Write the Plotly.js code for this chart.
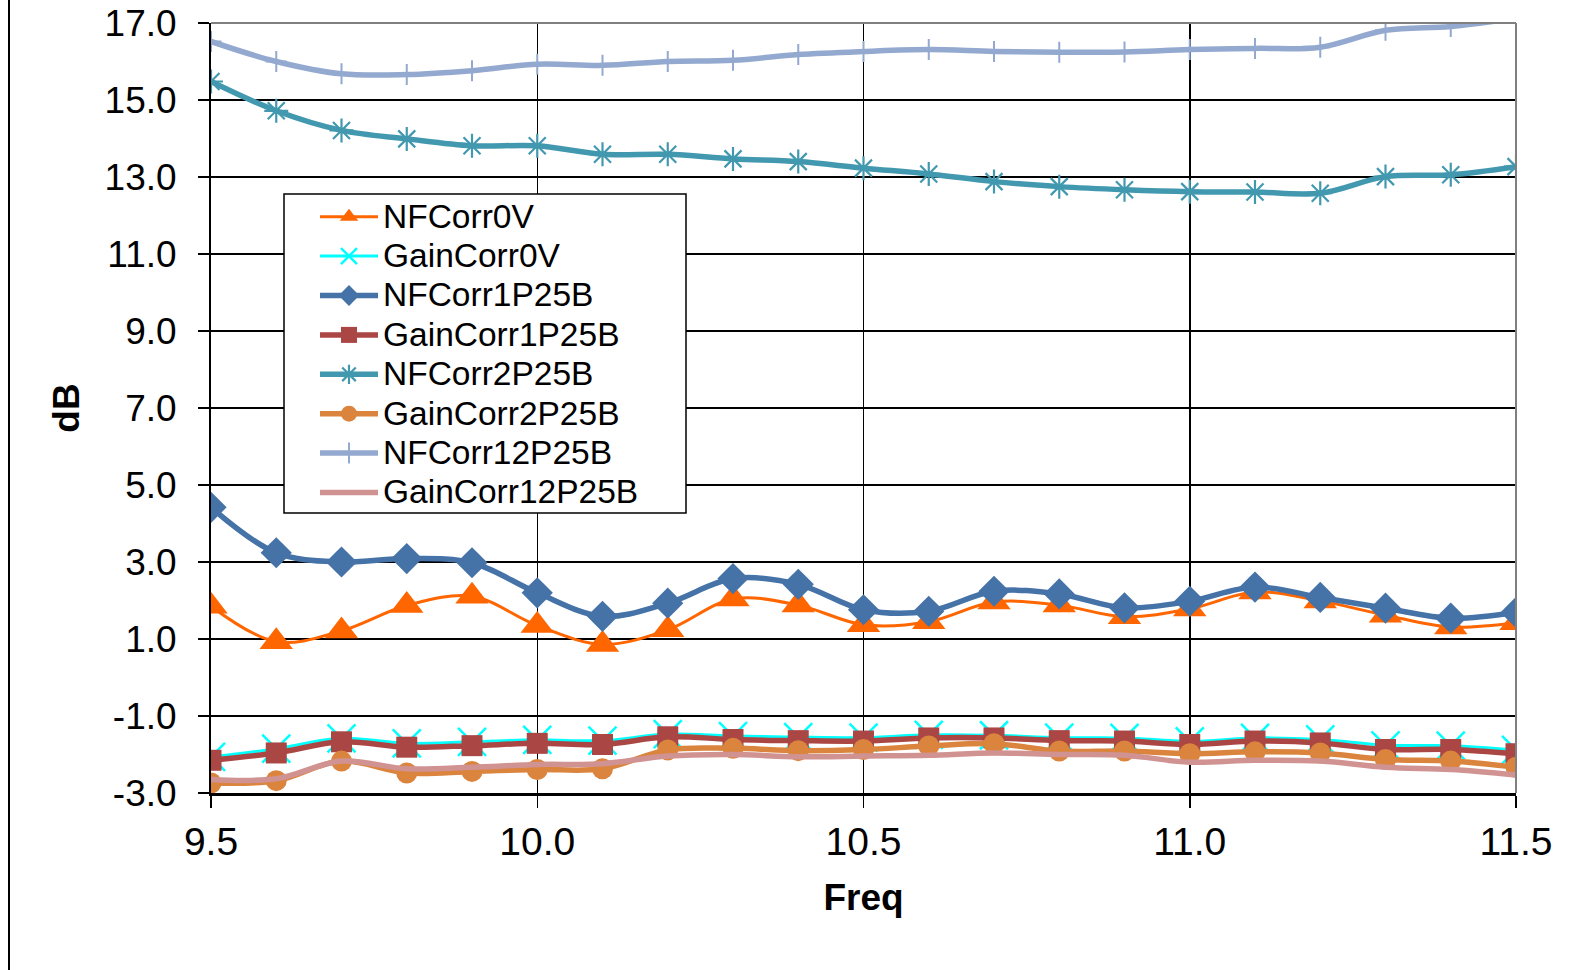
<!DOCTYPE html>
<html>
<head>
<meta charset="utf-8">
<script src="https://cdn.plot.ly/plotly-3.0.1.min.js"></script>
<style>
  html, body { margin: 0; padding: 0; background: #ffffff; }
  #chart { width: 1588px; height: 970px; }
</style>
</head>
<body>
<div id="chart"></div>
<script>
// ---- data ----
const freq = [9.5, 9.6, 9.7, 9.8, 9.9, 10.0, 10.1, 10.2, 10.3, 10.4, 10.5,
              10.6, 10.7, 10.8, 10.9, 11.0, 11.1, 11.2, 11.3, 11.4, 11.5];

const NFCorr0V      = [1.85, 0.93, 1.21, 1.87, 2.11, 1.35, 0.86, 1.24, 2.04, 1.88, 1.37,
                       1.45, 1.96, 1.88, 1.58, 1.78, 2.22, 1.99, 1.62, 1.31, 1.42];
const GainCorr0V    = [-2.06, -1.85, -1.58, -1.71, -1.67, -1.62, -1.64, -1.47, -1.52, -1.55, -1.56,
                       -1.49, -1.50, -1.56, -1.57, -1.66, -1.57, -1.61, -1.76, -1.77, -1.88];
const NFCorr1P25B   = [4.42, 3.24, 3.00, 3.09, 2.98, 2.20, 1.59, 1.93, 2.57, 2.42, 1.76,
                       1.72, 2.24, 2.17, 1.81, 1.98, 2.35, 2.08, 1.80, 1.54, 1.69];
const GainCorr1P25B = [-2.15, -1.96, -1.67, -1.81, -1.77, -1.71, -1.74, -1.54, -1.61, -1.64, -1.65,
                       -1.57, -1.57, -1.64, -1.65, -1.74, -1.65, -1.70, -1.87, -1.87, -1.98];
const NFCorr2P25B   = [15.48, 14.72, 14.21, 13.99, 13.81, 13.81, 13.59, 13.59, 13.47, 13.40, 13.23,
                       13.08, 12.88, 12.75, 12.67, 12.62, 12.61, 12.58, 13.01, 13.06, 13.27];
const GainCorr2P25B = [-2.74, -2.68, -2.17, -2.48, -2.44, -2.39, -2.37, -1.88, -1.84, -1.90, -1.87,
                       -1.78, -1.72, -1.91, -1.91, -1.98, -1.93, -1.96, -2.13, -2.17, -2.33];
const NFCorr12P25B  = [16.52, 16.00, 15.68, 15.66, 15.76, 15.93, 15.90, 16.00, 16.03, 16.18, 16.26,
                       16.31, 16.26, 16.24, 16.25, 16.31, 16.34, 16.37, 16.81, 16.91, 17.12];
const GainCorr12P25B= [-2.65, -2.63, -2.17, -2.37, -2.33, -2.26, -2.24, -2.04, -2.00, -2.06, -2.04,
                       -2.02, -1.96, -2.00, -2.02, -2.20, -2.15, -2.17, -2.33, -2.39, -2.53];

const yTicks = [-3, -1, 1, 3, 5, 7, 9, 11, 13, 15, 17];
const xTicks = [9.5, 10.0, 10.5, 11.0, 11.5];

const FONT = '"Liberation Sans", Arial, "DejaVu Sans", sans-serif';

// legend label: larger glyphs than the legend row pitch font
function label(s) { return '<span style="font-size:33.5px">' + s + '</span>'; }

function series(name, y, color, width, marker) {
  const t = {
    type: 'scatter', x: freq, y: y, name: label(name),
    mode: marker ? 'lines+markers' : 'lines',
    line: { color: color, width: width, shape: 'spline', smoothing: 1 },
    cliponaxis: true
  };
  if (marker) t.marker = marker;
  return t;
}

const traces = [
  series('NFCorr0V', NFCorr0V, '#FF6600', 3,
         { symbol: 'triangle-up', size: 29, color: '#FF6600' }),
  series('GainCorr0V', GainCorr0V, '#00FFFF', 3,
         { symbol: 'x-thin-open', size: 28, color: '#00FFFF', line: { color: '#00FFFF', width: 2.5 } }),
  series('NFCorr1P25B', NFCorr1P25B, '#4572A7', 5.5,
         { symbol: 'diamond', size: 24, color: '#4572A7' }),
  series('GainCorr1P25B', GainCorr1P25B, '#AA4643', 5.5,
         { symbol: 'square', size: 21, color: '#AA4643' }),
  series('NFCorr2P25B', NFCorr2P25B, '#4198AF', 5.5,
         { symbol: 'asterisk-open', size: 20, color: '#4198AF', line: { color: '#4198AF', width: 2.2 } }),
  series('GainCorr2P25B', GainCorr2P25B, '#DB843D', 5.5,
         { symbol: 'circle', size: 21, color: '#DB843D' }),
  series('NFCorr12P25B', NFCorr12P25B, '#93A9CF', 5.5,
         { symbol: 'cross-thin-open', size: 15, color: '#93A9CF', line: { color: '#93A9CF', width: 2 } }),
  series('GainCorr12P25B', GainCorr12P25B, '#D19392', 5.5, null)
];

const legendBox = { left: 284, right: 686, top: 194, bottom: 513 };
const plotBox = { left: 211, right: 1516, top: 23, bottom: 793 };
const px2x = px => (px - plotBox.left) / (plotBox.right - plotBox.left);
const px2y = py => (plotBox.bottom - py) / (plotBox.bottom - plotBox.top);

const layout = {
  width: 1588, height: 970,
  margin: { l: 211, r: 72, t: 23, b: 177, pad: 0 },
  paper_bgcolor: '#ffffff', plot_bgcolor: '#ffffff',
  font: { family: FONT, color: '#000000', size: 33 },
  showlegend: true,
  xaxis: {
    range: [9.5, 11.5], tickvals: xTicks, ticktext: xTicks.map(v => v.toFixed(1)),
    showgrid: true, gridcolor: '#000000', gridwidth: 1.5,
    showline: true, linecolor: '#000000', linewidth: 2.5,
    ticks: 'outside', ticklen: 12, tickwidth: 1.5, tickcolor: '#000000',
    tickfont: { family: FONT, size: 39, color: '#000000' },
    ticklabelstandoff: 1,
    zeroline: false,
    title: { text: '<b>Freq</b>', font: { family: FONT, size: 37, color: '#000000' }, standoff: 22 }
  },
  yaxis: {
    range: [-3, 17], tickvals: yTicks, ticktext: yTicks.map(v => v.toFixed(1)),
    showgrid: true, gridcolor: '#000000', gridwidth: 1.5,
    showline: true, linecolor: '#000000', linewidth: 2,
    ticks: 'outside', ticklen: 11, tickwidth: 1.5, tickcolor: '#000000',
    tickfont: { family: FONT, size: 37, color: '#000000' },
    ticklabelstandoff: 14,
    zeroline: false,
    title: { text: '<b>dB</b>', font: { family: FONT, size: 37, color: '#000000' }, standoff: 14 }
  },
  legend: {
    x: px2x(legendBox.left + 1), y: px2y(legendBox.top - 2), xanchor: 'left', yanchor: 'top',
    bgcolor: 'rgba(0,0,0,0)', borderwidth: 0,
    font: { family: FONT, size: 28, color: '#000000' },
    itemwidth: 58, tracegroupgap: 0, indentation: 30,
    itemclick: false, itemdoubleclick: false
  },
  shapes: [
    // legend frame
    { type: 'rect', xref: 'paper', yref: 'paper', layer: 'above',
      x0: px2x(legendBox.left), x1: px2x(legendBox.right),
      y0: px2y(legendBox.bottom), y1: px2y(legendBox.top),
      fillcolor: '#ffffff', line: { color: '#000000', width: 1.5 } },
    // plot area top / right border
    { type: 'line', xref: 'paper', yref: 'paper', x0: 0, x1: 1, y0: 1, y1: 1,
      line: { color: '#808080', width: 2 } },
    { type: 'line', xref: 'paper', yref: 'paper', x0: 1, x1: 1, y0: 0, y1: 1,
      line: { color: '#808080', width: 2 } },
    // chart frame left edge
    { type: 'line', xref: 'paper', yref: 'paper',
      x0: px2x(9), x1: px2x(9), y0: px2y(980), y1: px2y(-10),
      line: { color: '#000000', width: 2 } }
  ]
};

Plotly.newPlot('chart', traces, layout, { staticPlot: true, displayModeBar: false });
</script>
</body>
</html>
